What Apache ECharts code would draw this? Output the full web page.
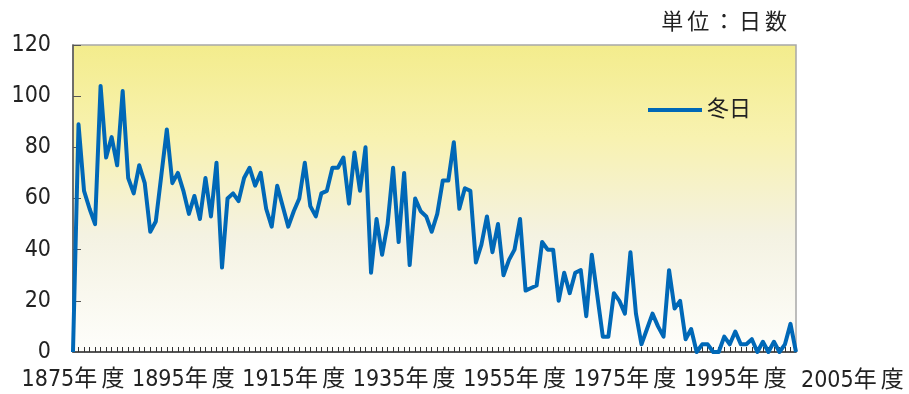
<!DOCTYPE html>
<html>
<head>
<meta charset="utf-8">
<script src="https://cdn.jsdelivr.net/npm/echarts@6/dist/echarts.min.js"></script>
<style>
  html, body { margin: 0; padding: 0; background: #ffffff; }
  #chart { width: 909px; height: 394px; }
</style>
</head>
<body>
<div id="chart"></div>
<script>
// Annual count of 冬日 (days with minimum temperature below 0°C), fiscal years 1875–2006
const firstYear = 1875;
const winterDays = [
  0, 89, 63, 56, 50, 104, 76, 84, 73, 102,
  68, 62, 73, 66, 47, 51, 69, 87, 66, 70,
  63, 54, 61, 52, 68, 53, 74, 33, 60, 62,
  59, 68, 72, 65, 70, 56, 49, 65, 57, 49,
  55, 60, 74, 57, 53, 62, 63, 72, 72, 76,
  58, 78, 63, 80, 31, 52, 38, 50, 72, 43,
  70, 34, 60, 55, 53, 47, 54, 67, 67, 82,
  56, 64, 63, 35, 42, 53, 39, 50, 30, 36,
  40, 52, 24, 25, 26, 43, 40, 40, 20, 31,
  23, 31, 32, 14, 38, 22, 6, 6, 23, 20,
  15, 39, 15, 3, 9, 15, 10, 6, 32, 17,
  20, 5, 9, 0, 3, 3, 0, 0, 6, 3,
  8, 3, 3, 5, 0, 4, 0, 4, 0, 3,
  11, 0
];
const categories = winterDays.map((_, i) => String(firstYear + i));
const labelYears = ['1875', '1895', '1915', '1935', '1955', '1975', '1995'];
const yearSuffix = '年\u2009度';
const extraLabel = '2005' + yearSuffix;
const seriesName = '冬日';
const unitText = '単\u2009位\u2009：\u2009日\u2009数';

const font = '"DejaVu Sans Condensed", "Noto Sans CJK JP", sans-serif';
const textColor = '#222222';

const chart = echarts.init(document.getElementById('chart'), null, { renderer: 'canvas' });
chart.setOption({
  animation: false,
  backgroundColor: '#ffffff',
  grid: {
    left: 73, right: 113, top: 45, bottom: 42,
    show: true,
    borderColor: '#a8a8a8',
    borderWidth: 1.5,
    backgroundColor: new echarts.graphic.LinearGradient(0, 0, 0, 1, [
      { offset: 0, color: '#f3ec8c' },
      { offset: 0.3, color: '#f8f2b0' },
      { offset: 0.62, color: '#f4f2e2' },
      { offset: 1, color: '#fefefb' }
    ])
  },
  legend: {
    left: 643, top: 94,
    icon: 'rect',
    itemWidth: 54, itemHeight: 4,
    itemGap: 4,
    textStyle: { fontSize: 22, color: textColor, fontFamily: font },
    data: [seriesName]
  },
  xAxis: {
    type: 'category',
    data: categories,
    boundaryGap: false,
    axisLine: { show: true, lineStyle: { color: '#333333', width: 1.5 } },
    axisTick: {
      show: true, inside: true, length: 5, interval: 0,
      lineStyle: { color: '#333333', width: 1 }
    },
    axisLabel: {
      interval: (i, v) => labelYears.indexOf(v) >= 0,
      formatter: v => v + yearSuffix,
      margin: 17,
      fontSize: 23,
      color: textColor,
      fontFamily: font
    },
    splitLine: { show: false }
  },
  yAxis: {
    type: 'value',
    min: 0, max: 120, interval: 20,
    axisLine: { show: true, lineStyle: { color: '#555555', width: 1.5 } },
    axisTick: { show: true, inside: true, length: 8, lineStyle: { color: '#555555', width: 1 } },
    axisLabel: { margin: 22, fontSize: 23, color: textColor, fontFamily: font },
    splitLine: { show: false }
  },
  graphic: [
    {
      type: 'text',
      right: 122, top: 12,
      style: { text: unitText, fontSize: 22, fill: textColor, fontFamily: font }
    },
    {
      type: 'text',
      left: 801, top: 370,
      style: { text: extraLabel, fontSize: 23, fill: textColor, fontFamily: font }
    }
  ],
  series: [{
    name: seriesName,
    type: 'line',
    data: winterDays,
    showSymbol: false,
    symbol: 'none',
    lineStyle: { color: '#0068b7', width: 4, join: 'round' },
    itemStyle: { color: '#0068b7' }
  }]
});
</script>
</body>
</html>
